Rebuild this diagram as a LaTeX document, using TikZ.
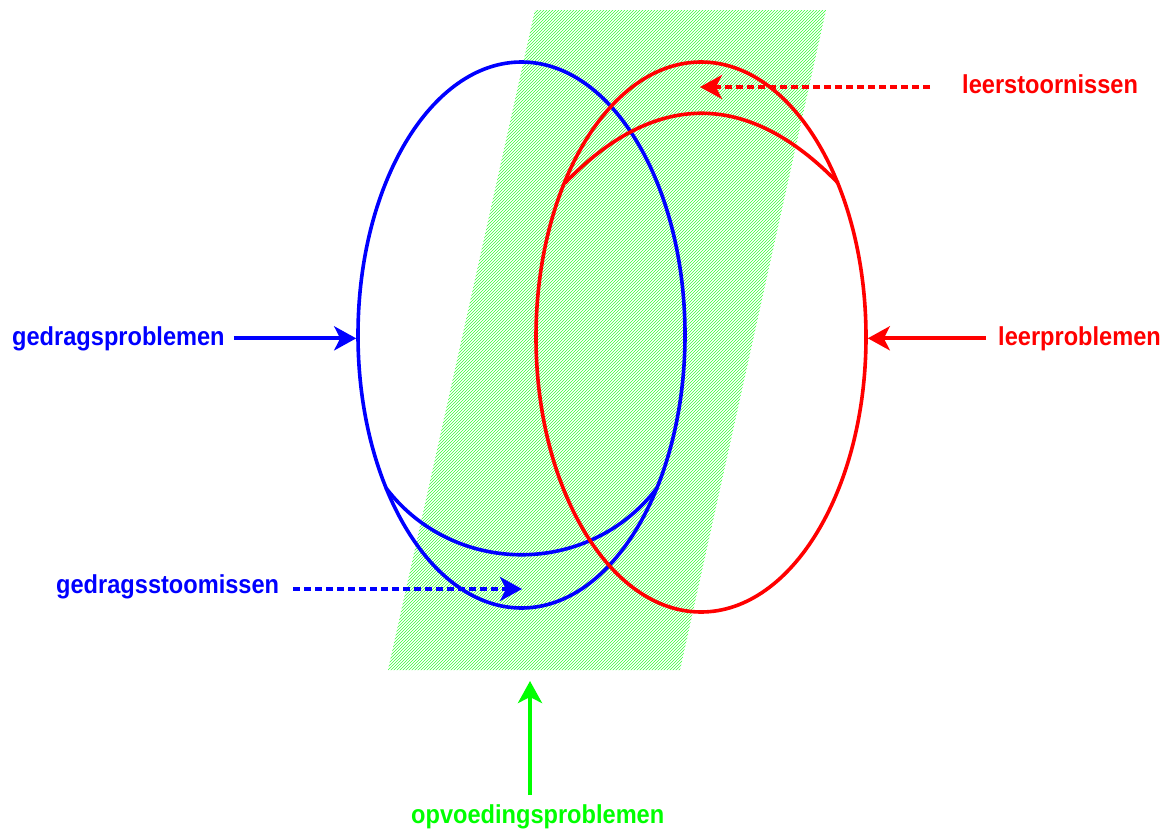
\documentclass[tikz,border=0pt]{standalone}
\usepackage{fontspec}
\setmainfont{Liberation Sans}
\usetikzlibrary{patterns,arrows.meta,shapes.geometric}
\begin{document}
\begin{tikzpicture}[x=1pt,y=-1pt,
  lbl/.style={font=\bfseries\fontsize{23.6}{26}\selectfont, inner sep=0pt},
  ell/.style={ellipse, draw, line width=3.6pt, inner sep=0pt},
  solidarr/.style={line width=4.2pt, -{Stealth[length=22pt,width=24pt,inset=6pt]}},
  dasharr/.style={line width=3.6pt, dash pattern=on 7pt off 4pt, -{Stealth[length=22pt,width=24pt,inset=6pt]}},
  curve/.style={line width=3.6pt}
]
\useasboundingbox (0,0) rectangle (1165,830);
% green hatched band
\fill[pattern=north east lines, pattern color=green!80!white] (535,10) -- (826,10) -- (680,670) -- (388,670) -- cycle;
% blue ellipse and arc
\node[ell, draw=blue, minimum width=327pt, minimum height=546pt] (be) at (521.5,335) {};
\draw[curve, blue] (386,488) .. controls (454,577) and (589,577) .. (657,488);
% red ellipse and arc
\node[ell, draw=red, minimum width=330pt, minimum height=550pt] (re) at (701,337) {};
\draw[curve, red] (565,183) .. controls (655,90) and (748,90) .. (838,183);
% labels
\node[lbl, text=blue, anchor=base west] (gp) at (12,345) {\scalebox{1}[1.1]{gedragsproblemen}};
\node[lbl, text=red, anchor=base west] (lp) at (998,345) {\scalebox{1}[1.1]{leerproblemen}};
\node[lbl, text=red, anchor=base west] (ls) at (962,93) {\scalebox{1}[1.1]{leerstoornissen}};
\node[lbl, text=blue, anchor=base west] (gs) at (56,593) {\scalebox{1}[1.1]{gedragsstoomissen}};
\node[lbl, text=green, anchor=base west] (op) at (411,823) {\scalebox{1}[1.1]{opvoedingsproblemen}};
% arrow end points
\coordinate (lsT) at (700,87);
\coordinate (gsT) at (522,589);
\coordinate (opS) at (530,795);
\coordinate (opT) at (530,681);
% arrows
\draw[solidarr, blue] ([xshift=9pt]gp.east) -- (be.west |- gp.east);
\draw[solidarr, red] ([xshift=-12pt]lp.west) -- (re.east |- lp.west);
\draw[dasharr, red] ([xshift=-32pt]ls.west |- lsT) -- (lsT);
\draw[dasharr, blue] ([xshift=14pt]gs.east |- gsT) -- (gsT);
\draw[solidarr, green] (opS) -- (opT);
\end{tikzpicture}
\end{document}
